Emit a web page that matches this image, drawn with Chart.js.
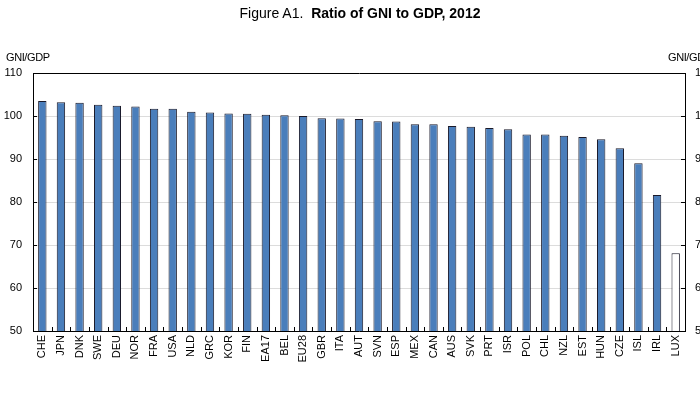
<!DOCTYPE html>
<html>
<head>
<meta charset="utf-8">
<script src="https://cdn.jsdelivr.net/npm/chart.js@4.4.1/dist/chart.umd.min.js"></script>
<style>
  html, body { margin:0; padding:0; background:#fff; overflow:hidden; width:700px; height:394px; }
  #wrap { position:absolute; left:0; top:0; width:730px; height:394px; }
  .title { position:absolute; top:5px; left:0; width:720px; text-align:center; font-family:"Liberation Sans", Arial, sans-serif; font-size:14px; color:#000; white-space:nowrap; }
  .title b { font-weight:bold; }
  .unit { position:absolute; top:51px; font-family:"Liberation Sans", Arial, sans-serif; font-size:11px; color:#000; white-space:nowrap; letter-spacing:-0.4px; }
</style>
</head>
<body>
<div id="wrap">
  <canvas id="c" width="730" height="394"></canvas>
</div>
<div class="title">Figure A1.&nbsp;&nbsp;<b>Ratio of GNI to GDP, 2012</b></div>
<div class="unit" style="left:6px;">GNI/GDP</div>
<div class="unit" style="left:668px;">GNI/GDP</div>
<script>
const categories = ['CHE','JPN','DNK','SWE','DEU','NOR','FRA','USA','NLD','GRC','KOR','FIN','EA17','BEL','EU28','GBR','ITA','AUT','SVN','ESP','MEX','CAN','AUS','SVK','PRT','ISR','POL','CHL','NZL','EST','HUN','CZE','ISL','IRL','LUX'];
const ratioValues = [103.5,103.2,103.1,102.6,102.4,102.2,101.7,101.7,101.0,100.8,100.6,100.5,100.3,100.2,100.0,99.5,99.4,99.3,98.8,98.7,98.1,98.1,97.7,97.5,97.2,96.9,95.7,95.7,95.4,95.1,94.6,92.5,89.0,81.6,68.1];
const hollowCategories = ['LUX'];
const yTicks = [50,60,70,80,90,100,110];

const FONT = '"Liberation Sans", Arial, sans-serif';

const innerTicks = {
  id: 'innerTicks',
  afterDraw(chart) {
    const ctx = chart.ctx;
    const x = chart.scales.x, y = chart.scales.y, y2 = chart.scales.y2;
    ctx.save();
    ctx.strokeStyle = '#000';
    ctx.lineWidth = 1;
    ctx.beginPath();
    for (let i = 0; i <= categories.length; i++) {
      const px = Math.round(x.getPixelForValue(i - 0.5)) + 0.5;
      ctx.moveTo(px, x.top);
      ctx.lineTo(px, x.top - 4);
    }
    yTicks.forEach(v => {
      const py = Math.round(y.getPixelForValue(v)) + 0.5;
      ctx.moveTo(y.right, py); ctx.lineTo(y.right + 4, py);
      ctx.moveTo(y2.left, py); ctx.lineTo(y2.left - 4, py);
    });
    ctx.stroke();
    ctx.restore();
  }
};

new Chart(document.getElementById('c'), {
  type: 'bar',
  data: {
    labels: categories,
    datasets: [{
      data: ratioValues,
      backgroundColor: categories.map(c => hollowCategories.includes(c) ? '#ffffff' : '#4a7ebb'),
      borderColor: '#1a1a2a',
      borderWidth: 1,
      borderSkipped: false,
      barPercentage: 0.45,
      categoryPercentage: 1.0,
      yAxisID: 'y'
    }]
  },
  options: {
    responsive: false,
    animation: false,
    events: [],
    layout: { padding: { top: 73, left: 0, right: 0, bottom: 0 } },
    plugins: { legend: { display: false }, tooltip: { enabled: false }, title: { display: false } },
    scales: {
      x: {
        offset: true,
        grid: { display: false },
        border: { display: true, color: '#000', width: 1 },
        ticks: { autoSkip: false, maxRotation: 90, minRotation: 90, padding: -4, color: '#000', font: { family: FONT, size: 11 } },
        afterFit(s) { s.height = 63; }
      },
      y: {
        position: 'left',
        min: 50, max: 110,
        afterBuildTicks(s) { s.ticks = yTicks.map(v => ({ value: v })); },
        grid: {
          drawTicks: false,
          color: ctx => ctx.tick && ctx.tick.value === 110 ? '#000' : (ctx.tick && ctx.tick.value === 50 ? 'rgba(0,0,0,0)' : '#dcdcdc'),
          lineWidth: 1
        },
        border: { display: true, color: '#000', width: 1 },
        ticks: { padding: 11, color: '#000', font: { family: FONT, size: 11 } },
        afterFit(s) { s.width = 33; }
      },
      y2: {
        position: 'right',
        min: 50, max: 110,
        afterBuildTicks(s) { s.ticks = yTicks.map(v => ({ value: v })); },
        grid: { display: false, drawTicks: false },
        border: { display: true, color: '#000', width: 1 },
        ticks: { padding: 10, color: '#000', font: { family: FONT, size: 11 } },
        afterFit(s) { s.width = 45; }
      }
    }
  },
  plugins: [innerTicks]
});
</script>
</body>
</html>
